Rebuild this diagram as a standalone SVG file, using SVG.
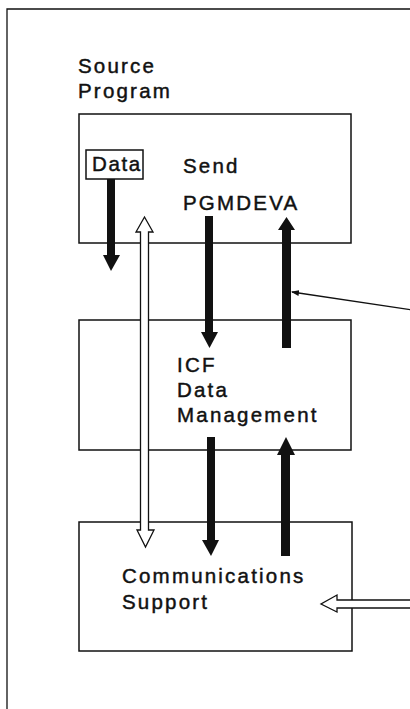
<svg xmlns="http://www.w3.org/2000/svg" width="410" height="709" viewBox="0 0 410 709">
<style>
.box{fill:#fff;stroke:#111;stroke-width:1.5}
.lbl{font-family:"Liberation Sans",Arial,sans-serif;font-size:20.5px;letter-spacing:2.2px;fill:#111;stroke:#111;stroke-width:0.45}
.solid{fill:#111;stroke:none}
.hollow{fill:#fff;stroke:#111;stroke-width:1.3;stroke-linejoin:miter}
.thin{fill:none;stroke:#111;stroke-width:1.3}
</style>
<defs>
<marker id="ah" markerWidth="8" markerHeight="6" refX="7" refY="3" orient="auto" markerUnits="userSpaceOnUse">
<path d="M0,0 L8,3 L0,6 Z" fill="#111"/>
</marker>
</defs>
<rect width="410" height="709" fill="#fff"/>
<path d="M7,709 L7,9 L410,9" class="thin"/>
<g id="source-program">
<text class="lbl" x="78" y="73">Source</text>
<text class="lbl" x="78" y="98">Program</text>
<rect class="box" x="79" y="114" width="272" height="129"/>
<g id="data">
<rect class="box" x="86" y="150" width="57" height="29"/>
<text class="lbl" x="92" y="171" style="letter-spacing:1.6px">Data</text>
</g>
<text class="lbl" x="183" y="173">Send</text>
<text class="lbl" x="183" y="210">PGMDEVA</text>
</g>
<g id="icf-data-management">
<rect class="box" x="79" y="320" width="272" height="130"/>
<text class="lbl" x="177" y="372">ICF</text>
<text class="lbl" x="177" y="397">Data</text>
<text class="lbl" x="177" y="422">Management</text>
</g>
<g id="communications-support">
<rect class="box" x="79" y="522" width="273" height="129"/>
<text class="lbl" x="122" y="583">Communications</text>
<text class="lbl" x="122" y="609">Support</text>
</g>
<g id="connectors">
<polygon class="solid" points="107,179 115,179 115,255 120,255 111,271 103,255 107,255"/>
<polygon class="solid" points="205,216 213,216 213,332 218,332 209.5,348 201,332 205,332"/>
<polygon class="solid" points="282,348 291,348 291,230 295,230 286.5,217 278,230 282,230"/>
<polygon class="solid" points="207,437 215,437 215,540 219,540 211,556 202,540 207,540"/>
<polygon class="solid" points="281,556 290,556 290,455 295,455 286,437 277,455 281,455"/>
<polygon class="hollow" points="144.5,217 153,232 148.5,232 148.5,530 154,530 145.5,547 137,530 140.5,530 140.5,232 136,232"/>
<polygon class="hollow" points="412,600 337,600 337,595 321,604 337,612 337,608 412,608"/>
<line class="thin" x1="412" y1="310" x2="292" y2="292" marker-end="url(#ah)"/>
</g>
</svg>
